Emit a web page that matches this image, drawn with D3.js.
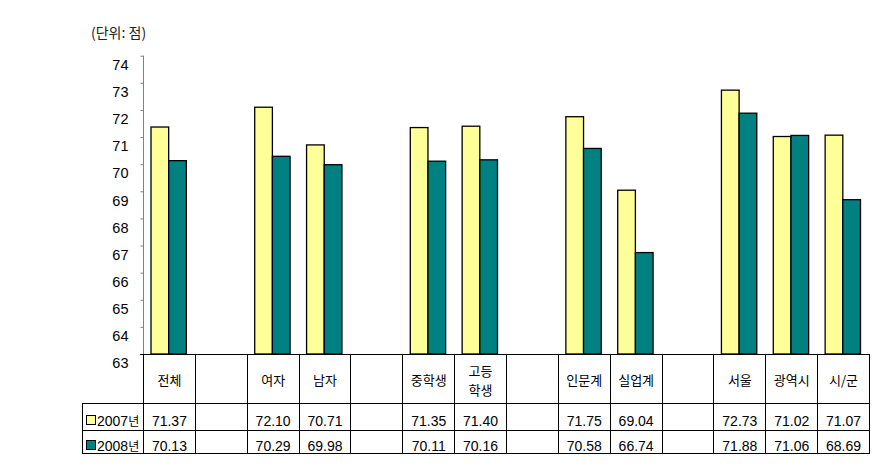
<!DOCTYPE html>
<html><head><meta charset="utf-8">
<script src="https://cdn.jsdelivr.net/npm/d3@7"></script>
<style>body{margin:0;background:#fff}svg{display:block}</style>
</head><body><svg id="c" width="886" height="469"></svg>
<script>
const categories = ["전체","","여자","남자","","중학생","고등\n학생","","인문계","실업계","","서울","광역시","시/군"];
const values2007 = [71.37,null,72.10,70.71,null,71.35,71.40,null,71.75,69.04,null,72.73,71.02,71.07];
const values2008 = [70.13,null,70.29,69.98,null,70.11,70.16,null,70.58,66.74,null,71.88,71.06,68.69];
const seriesNames = ["2007년","2008년"];
const seriesColors = ["#FFFF99","#008080"];
const yTicks = [63,64,65,66,67,68,69,70,71,72,73,74];

const svg = d3.select("#c");
const numFont = "'Liberation Sans', Arial, sans-serif";
const korFont = "'Noto Sans CJK KR', sans-serif";

const x = d3.scaleBand().domain(d3.range(categories.length)).range([143.5, 869.5]).padding(0);
const y = d3.scaleLinear().domain([63, 74]).range([354, 55.7]);
const inner = d3.scaleBand().domain([0,1]).range([7.5, x.bandwidth()-9]).padding(0);

// unit label
svg.append("text").attr("x", 91).attr("y", 38).attr("font-family", korFont).attr("font-size", 14)
  .attr("fill", "#222").text("(단위: 점)");

// y axis
const yAxis = d3.axisLeft(y).tickValues(yTicks).tickSize(3).tickFormat(d => d);
const ga = svg.append("g").attr("transform", "translate(143.5,0)").call(yAxis);
ga.select(".domain").attr("stroke", "#808080").attr("d", "M0,55.7V354");
ga.selectAll(".tick line").attr("stroke", "#808080");
ga.selectAll(".tick text").attr("font-family", numFont).attr("font-size", 14.5).attr("fill", "#000")
  .attr("x", -15).attr("dy", "0.95em");

// bars
const seriesVals = [values2007, values2008];
seriesVals.forEach((vals, s) => {
  svg.append("g").selectAll("rect").data(vals.map((v,i)=>({v,i})).filter(d => d.v != null))
    .join("rect")
    .attr("x", d => x(d.i) + inner(s))
    .attr("width", inner.bandwidth())
    .attr("y", d => y(d.v))
    .attr("height", d => y(63) - y(d.v))
    .attr("fill", seriesColors[s])
    .attr("stroke", "#000").attr("stroke-width", 1.3);
});

// table
const tY0 = 354, tY1 = 403, tY2 = 430, tY3 = 453, legX = 82;
const tg = svg.append("g").attr("stroke", "#000").attr("stroke-width", 1).attr("shape-rendering", "crispEdges");
tg.append("line").attr("x1", 140).attr("x2", 869.5).attr("y1", tY0).attr("y2", tY0);
[tY1, tY2, tY3].forEach(yy => tg.append("line").attr("x1", legX).attr("x2", 869.5).attr("y1", yy).attr("y2", yy));
tg.append("line").attr("x1", legX).attr("x2", legX).attr("y1", tY1).attr("y2", tY3);
const bounds = d3.range(categories.length).map(i => x(i)).concat([x(categories.length-1) + x.bandwidth()]);
bounds.forEach(bx => tg.append("line").attr("x1", bx).attr("x2", bx).attr("y1", tY0).attr("y2", tY3));

// category labels
categories.forEach((c, i) => {
  if (!c) return;
  const lines = c.split("\n");
  const cx = x(i) + x.bandwidth()/2;
  const t = svg.append("text").attr("text-anchor", "middle").attr("font-family", korFont).attr("font-size", 13).attr("fill", "#000");
  if (lines.length === 1) {
    t.append("tspan").attr("x", cx).attr("y", 385).text(lines[0]);
  } else {
    t.append("tspan").attr("x", cx).attr("y", 376).text(lines[0]);
    t.append("tspan").attr("x", cx).attr("y", 395).text(lines[1]);
  }
});

// values rows
const rowBase = [426, 451];
seriesVals.forEach((vals, s) => {
  svg.append("g").selectAll("text").data(vals.map((v,i)=>({v,i})).filter(d => d.v != null))
    .join("text")
    .attr("x", d => x(d.i) + x.bandwidth()/2)
    .attr("y", rowBase[s])
    .attr("text-anchor", "middle").attr("font-family", numFont).attr("font-size", 14).attr("fill", "#000")
    .text(d => d.v.toFixed(2));
  // legend
  svg.append("rect").attr("x", 86.5).attr("y", rowBase[s]-10.5).attr("width", 9).attr("height", 9)
    .attr("fill", seriesColors[s]).attr("stroke", "#000").attr("stroke-width", 1);
  const lt = svg.append("text").attr("x", 97).attr("y", rowBase[s]).attr("font-size", 14).attr("fill", "#000");
  lt.append("tspan").attr("font-family", numFont).text(seriesNames[s].slice(0,4));
  lt.append("tspan").attr("font-family", korFont).attr("font-size", 12).text(seriesNames[s].slice(4));
});
</script></body></html>
